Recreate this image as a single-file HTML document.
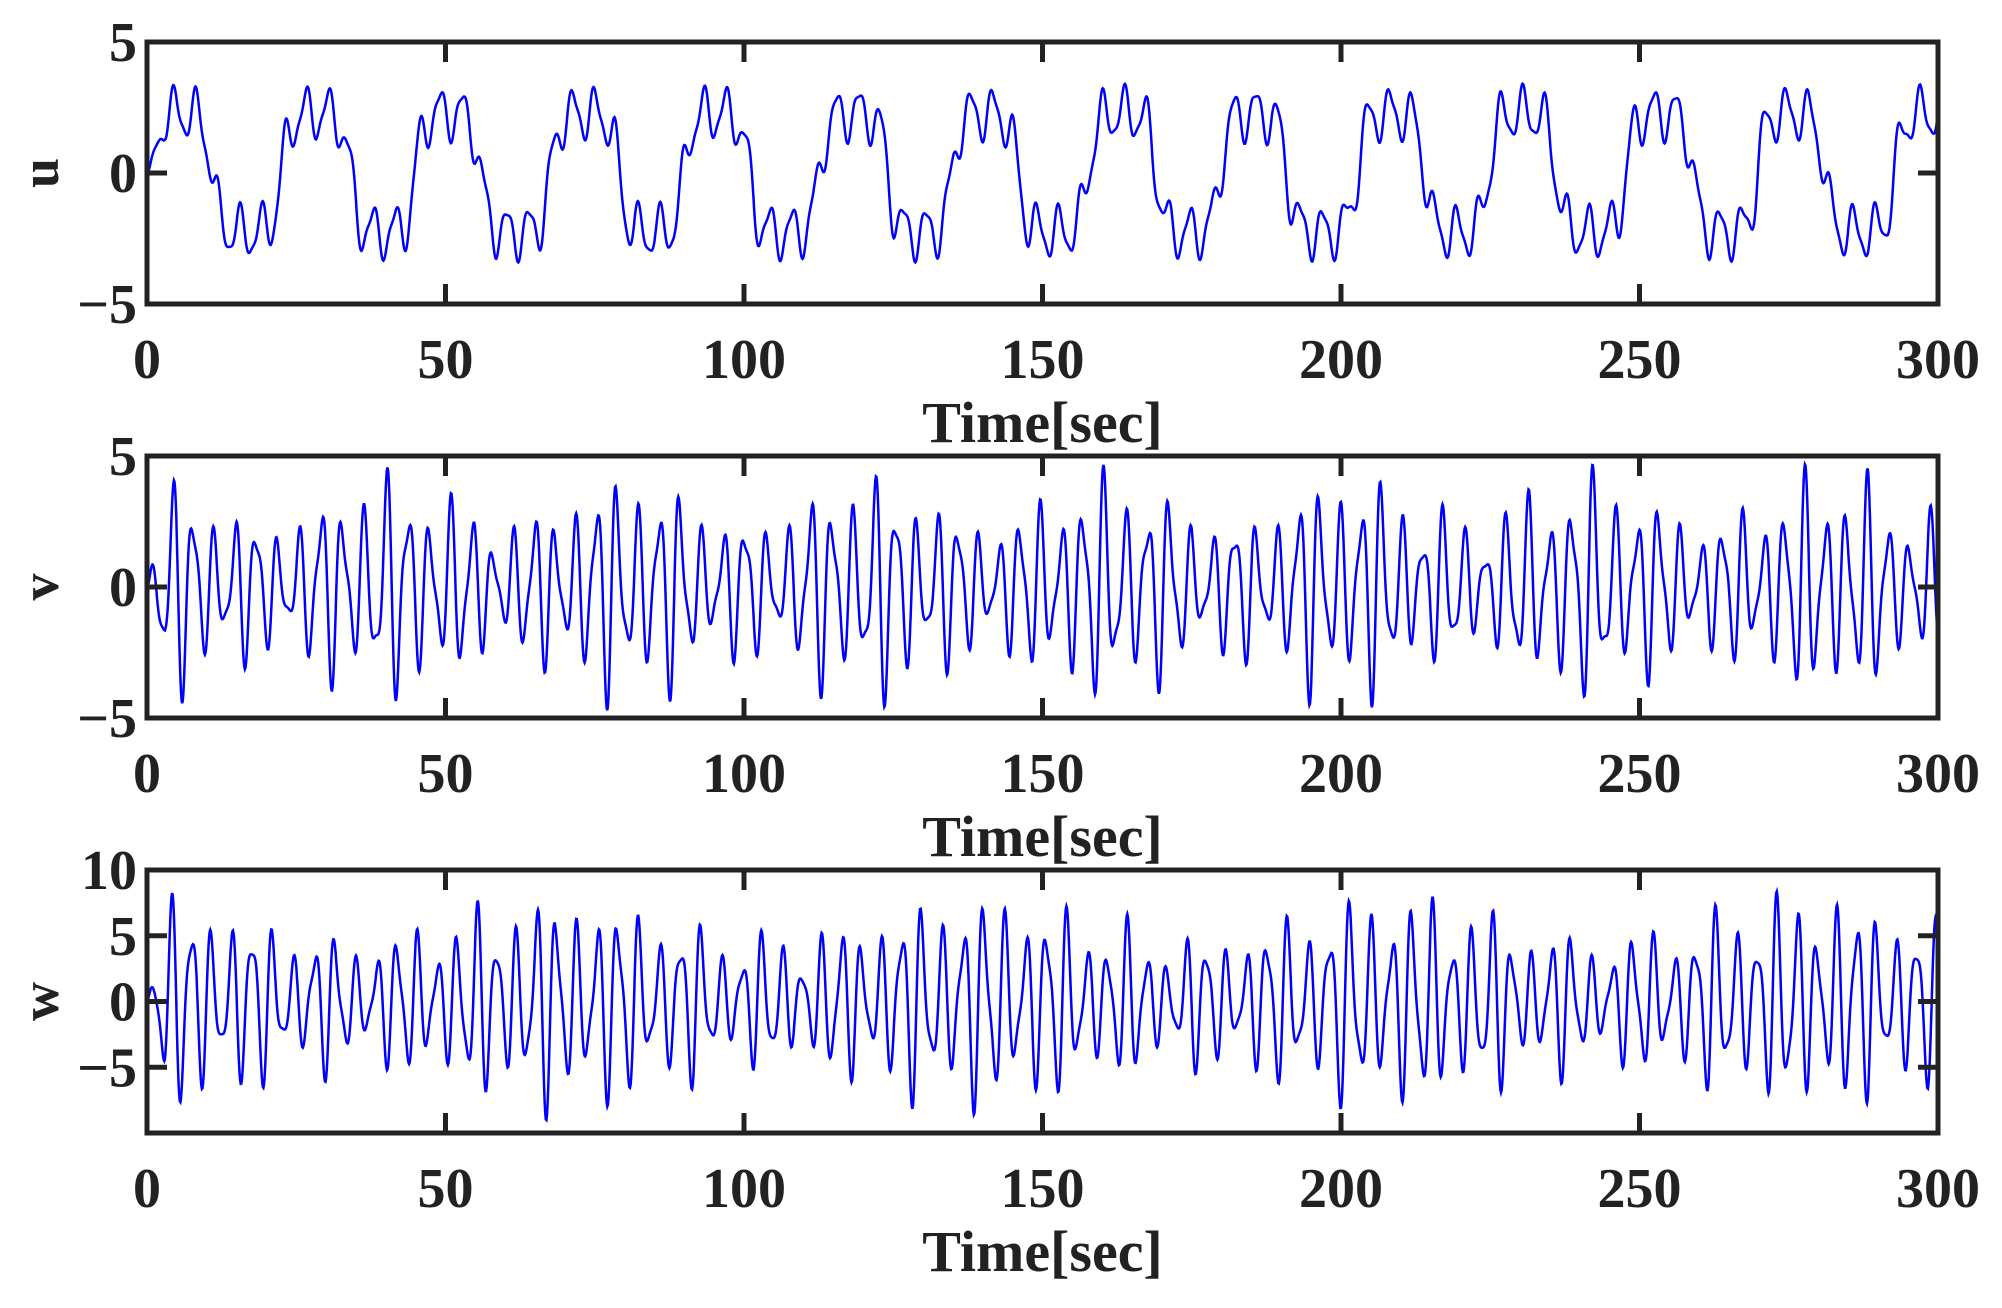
<!DOCTYPE html>
<html><head><meta charset="utf-8"><style>
html,body{margin:0;padding:0;background:#fff;}
svg{display:block;}
text{font-family:"Liberation Serif",serif;font-weight:bold;fill:#222;}
</style></head><body>
<svg id="s" width="2002" height="1308" xmlns="http://www.w3.org/2000/svg"></svg>
<script>
const S=document.getElementById('s');
const X0=147,X1=1938;
const axes=[{y0:42,y1:304,lab:'u',min:-5,max:5,ticks:[[5,'5'],[0,'0'],[-5,'−5']]},
{y0:456,y1:718,lab:'v',min:-5,max:5,ticks:[[5,'5'],[0,'0'],[-5,'−5']]},
{y0:870,y1:1133,lab:'w',min:-10,max:10,ticks:[[10,'10'],[5,'5'],[0,'0'],[-5,'−5']]}];
function fu(t){return 2.3*Math.tanh(2.5*Math.sin(2*Math.PI*t/22.5+0.1*Math.sin(t/7)))+0.9*Math.sin(2*Math.PI*t/3.7+0.3*Math.sin(t/13))+0.25*Math.sin(2*Math.PI*t/1.9);}
function fv(t){const a=1+0.5*Math.sin(t/5.3)*Math.sin(t/2.9);return a*(2.4*Math.sin(2*Math.PI*t/3.55+0.6*Math.sin(t/11))+0.9*Math.sin(2*Math.PI*t/2.1));}
function fw(t){const a=1+0.5*Math.sin(t/4.7)*Math.sin(t/3.3);return a*(4.5*Math.sin(2*Math.PI*t/3.4+0.5*Math.sin(t/9))+1.6*Math.sin(2*Math.PI*t/2.05+1));}
const fns=[fu,fv,fw];
let h='<defs>';
axes.forEach((a,i)=>{h+=`<clipPath id="c${i}"><rect x="${X0}" y="${a.y0}" width="${X1-X0}" height="${a.y1-a.y0}"/></clipPath>`;});
h+='</defs>';
axes.forEach((a,i)=>{
 const ym=v=>a.y1-(v-a.min)/(a.max-a.min)*(a.y1-a.y0);
 let p=[];
 for(let k=0;k<=3000;k++){const t=k*0.1;let v=fns[i](t);if(t<3)v*=t/3;p.push((X0+t/300*(X1-X0)).toFixed(1)+','+ym(v).toFixed(1));}
 h+=`<polyline clip-path="url(#c${i})" points="${p.join(' ')}" fill="none" stroke="#0000ff" stroke-width="2.5"/>`;
 h+=`<rect x="${X0}" y="${a.y0}" width="${X1-X0}" height="${a.y1-a.y0}" fill="none" stroke="#222" stroke-width="5"/>`;
 for(let k=0;k<=6;k++){const x=X0+k*(X1-X0)/6;
  h+=`<line x1="${x}" y1="${a.y1}" x2="${x}" y2="${a.y1-20}" stroke="#222" stroke-width="5"/><line x1="${x}" y1="${a.y0}" x2="${x}" y2="${a.y0+20}" stroke="#222" stroke-width="5"/>`;
  h+=`<text x="${x}" y="${a.y1+74}" font-size="56" text-anchor="middle">${k*50}</text>`;}
 a.ticks.forEach(([v,s])=>{const y=ym(v);
  h+=`<line x1="${X0}" y1="${y}" x2="${X0+20}" y2="${y}" stroke="#222" stroke-width="5"/><line x1="${X1}" y1="${y}" x2="${X1-20}" y2="${y}" stroke="#222" stroke-width="5"/>`;
  h+=`<text x="${X0-10}" y="${y+19}" font-size="56" text-anchor="end">${s}</text>`;});
 h+=`<text x="${(X0+X1)/2}" y="${a.y1+138}" font-size="58" text-anchor="middle">Time[sec]</text>`;
 const ly=(a.y0+a.y1)/2;
 h+=`<text transform="translate(58,${ly}) rotate(-90)" font-size="54" text-anchor="middle">${a.lab}</text>`;
});
S.innerHTML=h;
</script>
</body></html>
